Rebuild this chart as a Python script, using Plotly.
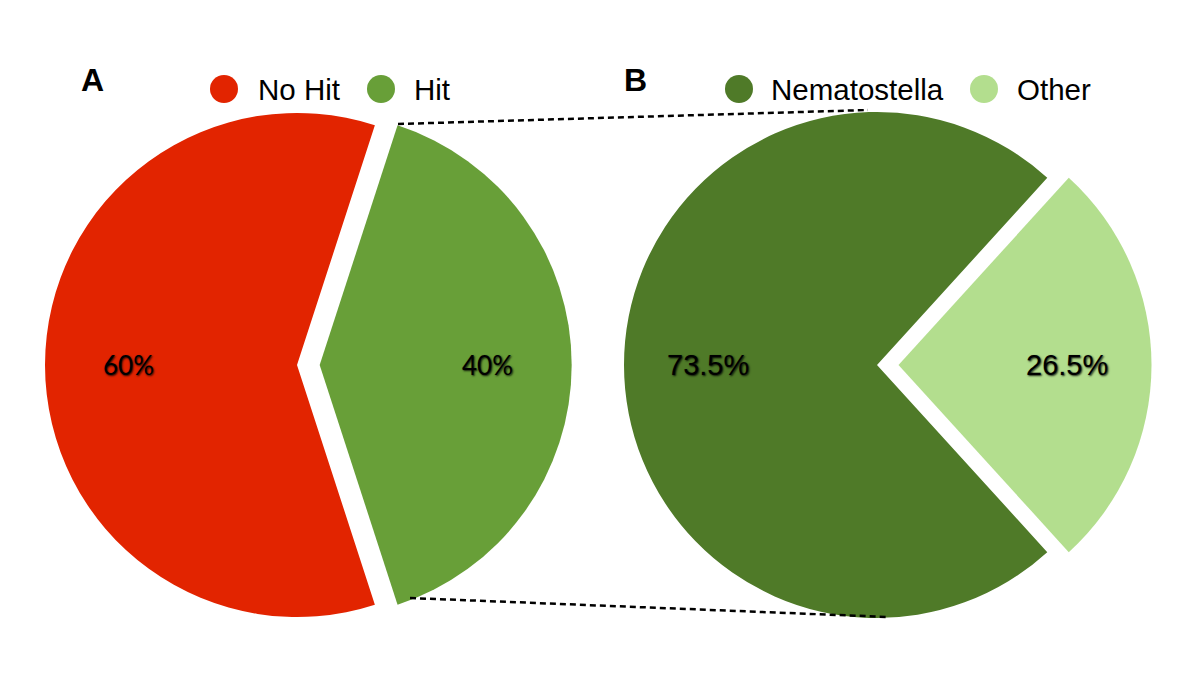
import math
import plotly.graph_objects as go

W, H = 1200, 675

# ---- data ----
labels_a = ["No Hit", "Hit"]
values_a = [60, 40]
labels_b = ["Nematostella", "Other"]
values_b = [73.5, 26.5]
panel_titles = ["A", "B"]

# ---- styles / layout ----
colors_a = ["#E22400", "#689F38"]
colors_b = ["#4F7A28", "#B3DE8E"]
pull_a = [0, 0.09]
pull_b = [0, 0.085]

geo_a = dict(cx=297, cy=365, r=252)
geo_b = dict(cx=877, cy=365, r=253)


def px_x(x):
    return x / W


def px_y(y):
    return 1 - y / H


def domain(g, pulls):
    half = g["r"] * (1 + max(pulls))
    return dict(x=[px_x(g["cx"] - half), px_x(g["cx"] + half)],
                y=[px_y(g["cy"] + half), px_y(g["cy"] - half)])


def rotation(values):
    # last slice centred at 3 o'clock (clockwise from 12 o'clock)
    f = values[-1] / sum(values)
    return 90 + 180 * f


fig = go.Figure()
annotations = []
shadow = "1px 1px 2px rgba(0,0,0,0.85)"

for labels, values, colors, pulls, g, lab_font in [
    (labels_a, values_a, colors_a, pull_a, geo_a, dict(family="Lato", size=26)),
    (labels_b, values_b, colors_b, pull_b, geo_b, dict(family="Liberation Sans, Arial", size=29)),
]:
    rot = rotation(values)
    fig.add_trace(go.Pie(
        labels=labels, values=values, sort=False, direction="clockwise",
        rotation=rot, pull=pulls, marker=dict(colors=colors, line=dict(width=0)),
        textinfo="none", showlegend=False, domain=domain(g, pulls),
        hoverinfo="label+percent",
    ))
    total = sum(values)
    cum = 0
    for v, p in zip(values, pulls):
        mid = math.radians(rot + 360 * (cum + v / 2) / total)
        cum += v
        rr = (p + 0.667) * g["r"]
        x = g["cx"] + rr * math.sin(mid)
        y = g["cy"] - rr * math.cos(mid)
        annotations.append(dict(
            x=px_x(x), y=px_y(y), xref="paper", yref="paper", showarrow=False,
            text=f"{v / total * 100:.3g}%", xanchor="center", yanchor="middle",
            font=dict(color="black", shadow=shadow, **lab_font),
        ))

# panel letters
for t, x in zip(panel_titles, [92, 635]):
    annotations.append(dict(
        x=px_x(x), y=px_y(80), xref="paper", yref="paper", showarrow=False,
        text=f"<b>{t}</b>", xanchor="center", yanchor="middle",
        font=dict(family="Liberation Sans, Arial", size=32, color="black"),
    ))

# manual legends (large round markers)
shapes = []
legend_items = [
    (labels_a[0], colors_a[0], 224, 256),
    (labels_a[1], colors_a[1], 381, 412),
    (labels_b[0], colors_b[0], 739, 769),
    (labels_b[1], colors_b[1], 984, 1015),
]
ly = 89
rad = 14
for name, col, mx, tx in legend_items:
    shapes.append(dict(type="circle", xref="paper", yref="paper",
                       x0=px_x(mx - rad), x1=px_x(mx + rad),
                       y0=px_y(ly + rad), y1=px_y(ly - rad),
                       fillcolor=col, line=dict(width=0)))
    annotations.append(dict(
        x=px_x(tx), y=px_y(ly), xref="paper", yref="paper", showarrow=False,
        text=name, xanchor="left", yanchor="middle",
        font=dict(family="Liberation Sans, Arial", size=29.5, color="black"),
    ))

# dashed connector lines
for (x0, y0), (x1, y1) in [((398, 124), (868, 110)), ((410, 598), (888, 617))]:
    shapes.append(dict(type="line", xref="paper", yref="paper",
                       x0=px_x(x0), y0=px_y(y0), x1=px_x(x1), y1=px_y(y1),
                       line=dict(color="black", width=2.5, dash="6px,4px")))

fig.update_layout(
    width=W, height=H, margin=dict(l=0, r=0, t=0, b=0),
    paper_bgcolor="white", plot_bgcolor="white",
    annotations=annotations, shapes=shapes, showlegend=False,
)

fig.write_html("out.html", config={"displayModeBar": False},
               post_script="document.body.style.margin='0';document.body.style.overflow='hidden';")
